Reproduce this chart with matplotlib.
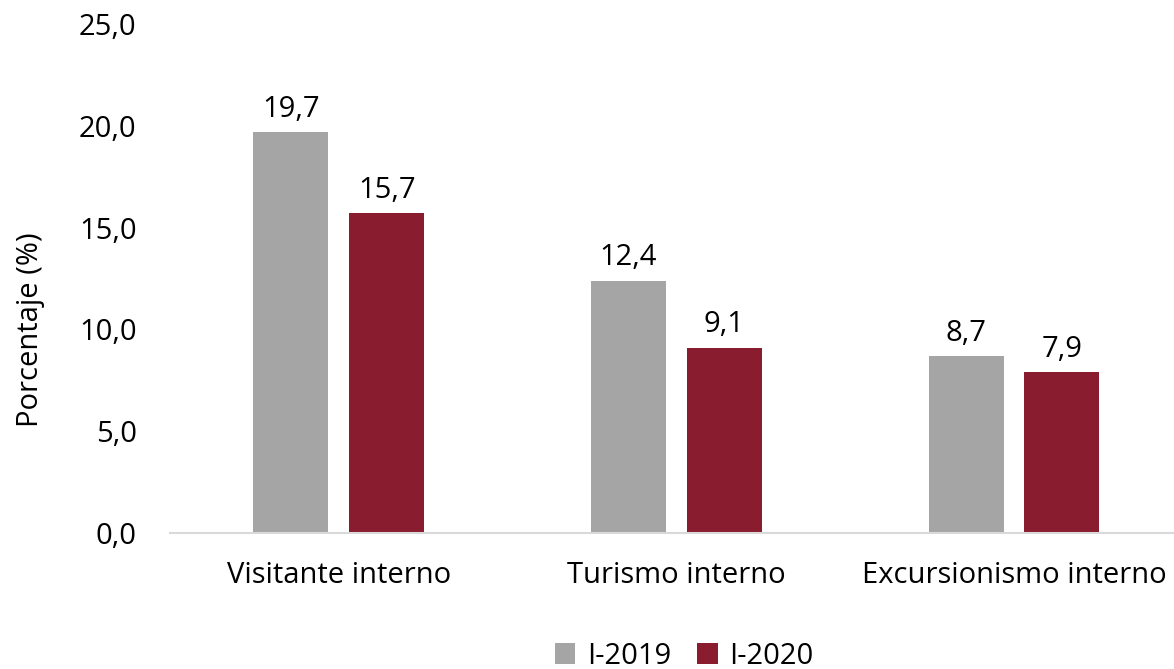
import matplotlib.pyplot as plt
import numpy as np

categorias = ['Visitante interno', 'Turismo interno', 'Excursionismo interno']
serie2019 = [19.7, 12.4, 8.7]
serie2020 = [15.7, 9.1, 7.9]
etiquetas = ['I-2019', 'I-2020']
yticks = [0, 5, 10, 15, 20, 25]

gris = '#A5A5A5'
rojo = '#891C2F'
fs = 21

plt.rcParams['font.family'] = ['Open Sans', 'DejaVu Sans']

fig = plt.figure(figsize=(11.74, 6.69), dpi=100)
ax = fig.add_axes([0.1448, 0.2033, 0.8552, 0.7607])

x = np.arange(len(categorias))
ancho = 0.222
off = 0.142
b1 = ax.bar(x - off, serie2019, ancho, color=gris, label=etiquetas[0])
b2 = ax.bar(x + off, serie2020, ancho, color=rojo, label=etiquetas[1])

for barras in (b1, b2):
    for b in barras:
        h = b.get_height()
        ax.annotate(f'{h:.1f}'.replace('.', ','), (b.get_x() + b.get_width() / 2, h),
                    xytext=(0, 6), textcoords='offset points',
                    ha='center', va='bottom', fontsize=fs)

ax.set_xlim(-0.5, 2.474)
ax.set_ylim(0, 25)
ax.set_yticks(yticks)
ax.set_yticklabels([f'{v:.1f}'.replace('.', ',') for v in yticks], fontsize=fs)
ax.set_xticks(x)
ax.set_xticklabels(categorias, fontsize=fs)
ax.tick_params(axis='both', length=0)
ax.tick_params(axis='y', pad=24)
ax.tick_params(axis='x', pad=20)
for s in ['top', 'right', 'left']:
    ax.spines[s].set_visible(False)
ax.spines['bottom'].set_color('#D9D9D9')
ax.spines['bottom'].set_linewidth(1.5)
ax.set_ylabel('Porcentaje (%)', fontsize=fs)
ax.yaxis.set_label_coords(-0.124, 0.40)

fig.legend(handles=[b1, b2], labels=etiquetas, loc='center', bbox_to_anchor=(684 / 1174, 1 - 656 / 669),
           ncol=2, frameon=False, fontsize=fs, handlelength=0.7, handleheight=0.7,
           handletextpad=0.4, columnspacing=0.9)

fig.savefig('out.png', dpi=100)
